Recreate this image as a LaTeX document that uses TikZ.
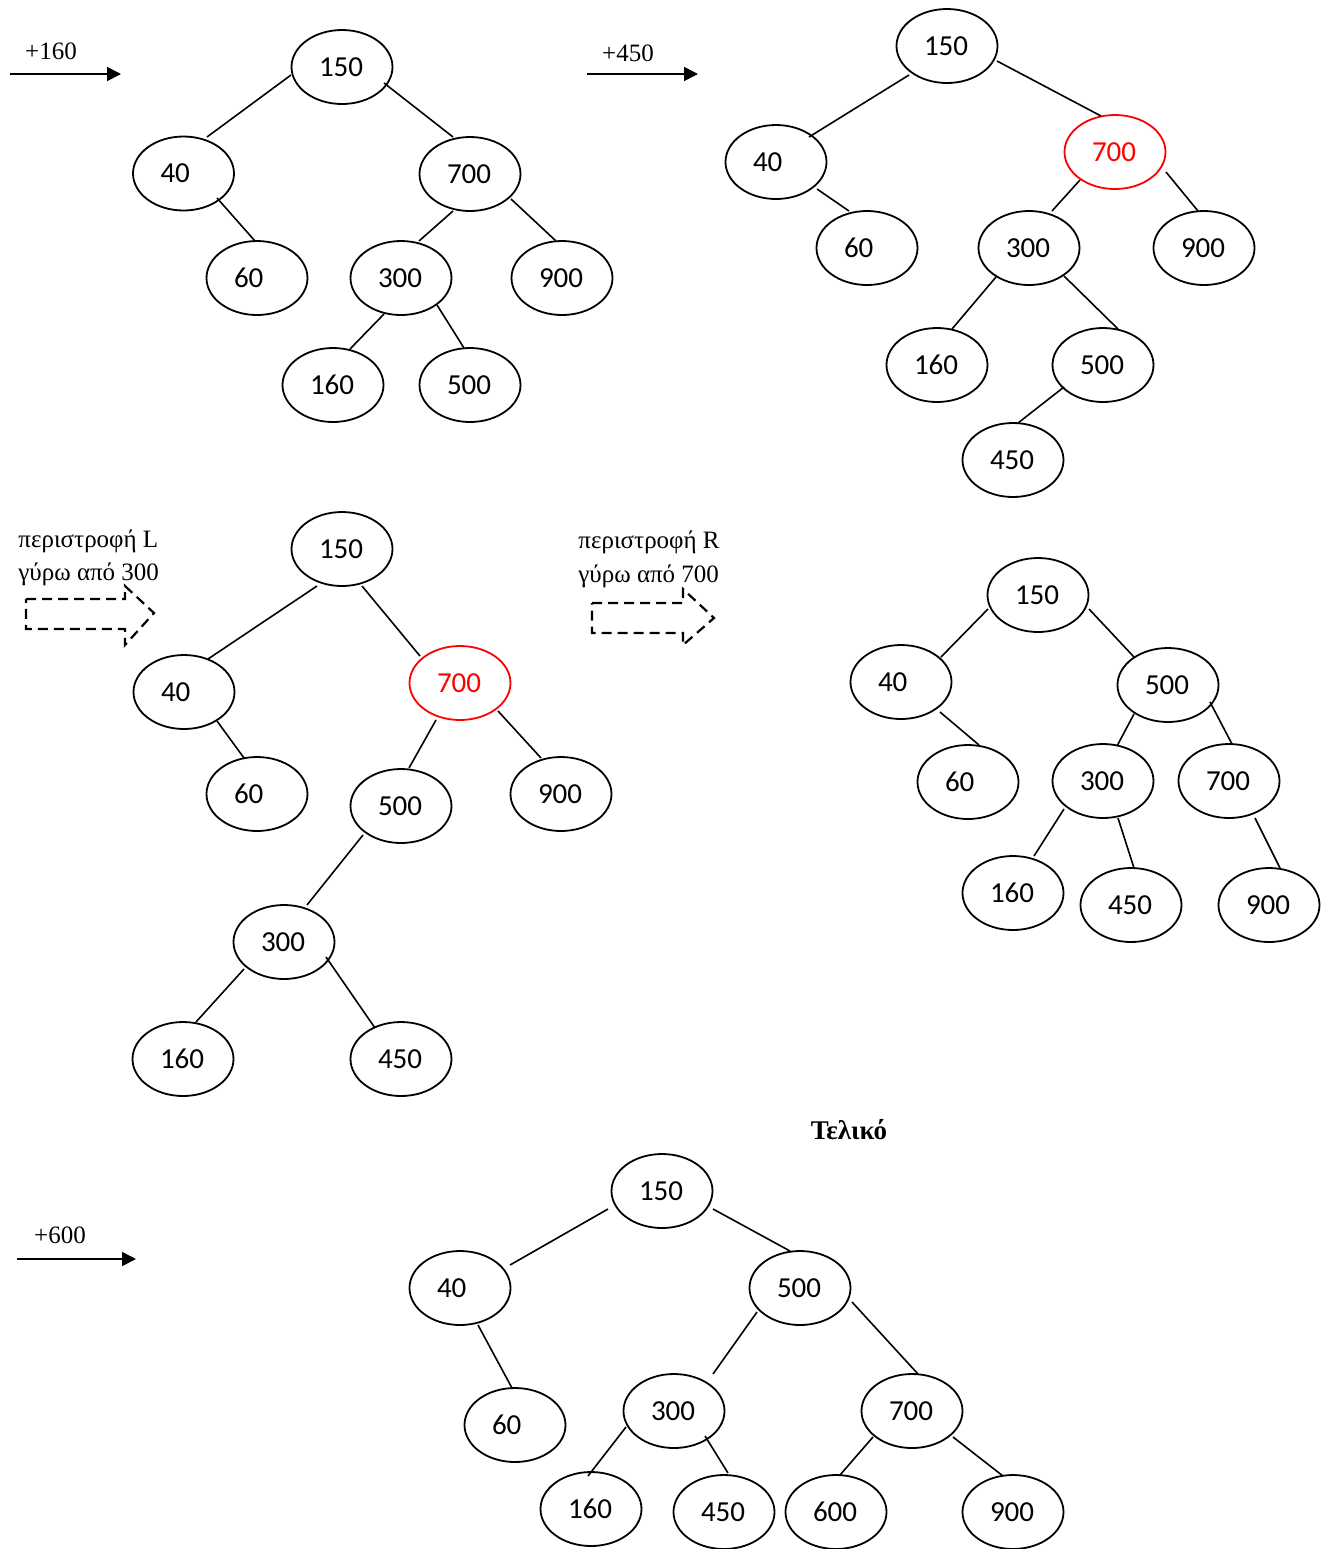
\documentclass[tikz,border=0pt]{standalone}
\usepackage{fontspec}
\setmainfont{Liberation Serif}
\newfontfamily\numfont{Carlito}
\usetikzlibrary{shapes.geometric,arrows.meta}
\definecolor{hlred}{RGB}{255,0,0}
\newcommand\tconn[4]{\draw[conn] ([shift={(#2)}]#1.center) -- ([shift={(#4)}]#3.center);}
\begin{document}
\begin{tikzpicture}[x=0.5pt,y=-0.5pt,
  tnode/.style={ellipse,draw,line width=0.9pt,minimum width=50.5pt,minimum height=37pt,inner sep=0pt,
    font=\numfont\fontsize{14.5}{17}\selectfont},
  hl/.style={draw=hlred,text=hlred},
  conn/.style={line width=0.8pt},
  lbl/.style={font=\fontsize{12.5}{15}\selectfont,inner sep=0pt},
  arr/.style={line width=0.9pt,-{Triangle[length=7pt,width=7pt]}},
  blockarr/.style={line width=1.1pt,dash pattern=on 5pt off 3pt}]
\useasboundingbox (0,0) rectangle (1332,1549);
\newcommand\tx[1]{\makebox[23pt][l]{#1}}
% ---------- arrows and labels ----------
\coordinate (s1) at (10,74); \coordinate (t1) at (121,74);
\draw[arr] (s1) -- (t1);
\node[lbl,anchor=base] (l160) at (51,59) {+160};
\coordinate (s2) at (587,74); \coordinate (t2) at (698,74);
\draw[arr] (s2) -- (t2);
\node[lbl,anchor=base] (l450) at (628,61) {+450};
\coordinate (s3) at (17,1259); \coordinate (t3) at (136,1259);
\draw[arr] (s3) -- (t3);
\node[lbl,anchor=base] (l600) at (60,1243) {+600};
\node[lbl,anchor=base west] (rl1) at (18,547) {περιστροφή L};
\node[lbl,anchor=base west] (rl2) at (18,580) {γύρω από 300};
\node[lbl,anchor=base west] (rr1) at (578,548) {περιστροφή R};
\node[lbl,anchor=base west] (rr2) at (578,582) {γύρω από 700};
\draw[blockarr] (26,599) -- (125,599) -- (125,586) -- (154,613) -- (125,645) -- (125,629) -- (26,629) -- cycle;
\draw[blockarr] (592,603) -- (683,603) -- (683,589) -- (714,618) -- (683,645) -- (683,633) -- (592,633) -- cycle;
\node[font=\bfseries\fontsize{13.5}{16}\selectfont,inner sep=0pt,anchor=base] (final) at (849,1139) {Τελικό};
% ---------- tree 1 ----------
\node[tnode] (a150) at (342,67) {\tx{150}};
\node[tnode] (a40) at (183.5,173.5) {\tx{40}};
\node[tnode] (a700) at (470,174) {\tx{700}};
\node[tnode] (a60) at (257,278) {\tx{60}};
\node[tnode] (a300) at (401,278) {\tx{300}};
\node[tnode] (a900) at (562,278) {\tx{900}};
\node[tnode] (a160) at (333,385) {\tx{160}};
\node[tnode] (a500) at (470,385) {\tx{500}};
\tconn{a150}{-51,8}{a40}{23.5,-36.5}
\tconn{a150}{42,16}{a700}{-17,-37}
\tconn{a40}{33.5,24.5}{a60}{-2,-37}
\tconn{a700}{-17,37}{a300}{18,-37}
\tconn{a700}{41,25}{a900}{-6,-37}
\tconn{a300}{-17,36}{a160}{17,-36}
\tconn{a300}{36,27}{a500}{-6,-37}
% ---------- tree 2 ----------
\node[tnode] (b150) at (947,46) {\tx{150}};
\node[tnode] (b40) at (776,162) {\tx{40}};
\node[tnode,hl] (b700) at (1115,152) {\tx{700}};
\node[tnode] (b60) at (867,248) {\tx{60}};
\node[tnode] (b300) at (1029,248) {\tx{300}};
\node[tnode] (b900) at (1204,248) {\tx{900}};
\node[tnode] (b160) at (937,365) {\tx{160}};
\node[tnode] (b500) at (1103,365) {\tx{500}};
\node[tnode] (b450) at (1013,460) {\tx{450}};
\tconn{b150}{-38,29}{b40}{33,-25}
\tconn{b150}{50,15}{b700}{-14,-36}
\tconn{b40}{41,27}{b60}{-18,-37}
\tconn{b700}{-35,28}{b300}{23,-37}
\tconn{b700}{51,20}{b900}{-6,-37}
\tconn{b300}{-33,29}{b160}{15,-36}
\tconn{b300}{35,28}{b500}{15,-36}
\tconn{b500}{-39,22}{b450}{5,-37}
% ---------- tree 3 ----------
\node[tnode] (c150) at (342,549) {\tx{150}};
\node[tnode] (c40) at (184,692) {\tx{40}};
\node[tnode,hl] (c700) at (460,683) {\tx{700}};
\node[tnode] (c60) at (257,794) {\tx{60}};
\node[tnode] (c500) at (401,806) {\tx{500}};
\node[tnode] (c900) at (561,794) {\tx{900}};
\node[tnode] (c300) at (284,942) {\tx{300}};
\node[tnode] (c160) at (183,1059) {\tx{160}};
\node[tnode] (c450) at (401,1059) {\tx{450}};
\tconn{c150}{-25,37}{c40}{24,-33}
\tconn{c150}{20,37}{c700}{-40,-27}
\tconn{c40}{33,29}{c60}{-13,-36}
\tconn{c700}{-24,37}{c500}{8,-38}
\tconn{c700}{38,28}{c900}{-20,-36}
\tconn{c500}{-38,29}{c300}{23,-37}
\tconn{c300}{-40,27}{c160}{13,-37}
\tconn{c300}{42,15}{c450}{-26,-31}
% ---------- tree 4 ----------
\node[tnode] (d150) at (1038,595) {\tx{150}};
\node[tnode] (d40) at (901,682) {\tx{40}};
\node[tnode] (d500) at (1168,685) {\tx{500}};
\node[tnode] (d60) at (968,782) {\tx{60}};
\node[tnode] (d300) at (1103,781) {\tx{300}};
\node[tnode] (d700) at (1229,781) {\tx{700}};
\node[tnode] (d160) at (1013,893) {\tx{160}};
\node[tnode] (d450) at (1131,905) {\tx{450}};
\node[tnode] (d900) at (1269,905) {\tx{900}};
\tconn{d150}{-50,14}{d40}{40,-25}
\tconn{d150}{51,14}{d500}{-34,-28}
\tconn{d40}{39,30}{d60}{11,-37}
\tconn{d500}{-34,29}{d300}{14,-35}
\tconn{d500}{42,17}{d700}{3,-37}
\tconn{d300}{-39,28}{d160}{21,-37}
\tconn{d300}{15,37}{d450}{3,-37}
\tconn{d700}{26,37}{d900}{11,-37}
% ---------- tree 5 ----------
\node[tnode] (e150) at (662,1191) {\tx{150}};
\node[tnode] (e40) at (460,1288) {\tx{40}};
\node[tnode] (e500) at (800,1288) {\tx{500}};
\node[tnode] (e60) at (515,1425) {\tx{60}};
\node[tnode] (e300) at (674,1411) {\tx{300}};
\node[tnode] (e700) at (912,1411) {\tx{700}};
\node[tnode] (e160) at (591,1509) {\tx{160}};
\node[tnode] (e450) at (724,1512) {\tx{450}};
\node[tnode] (e600) at (836,1512) {\tx{600}};
\node[tnode] (e900) at (1013,1512) {\tx{900}};
\tconn{e150}{-54,18}{e40}{50,-23}
\tconn{e150}{51,18}{e500}{-10,-37}
\tconn{e40}{18,37}{e60}{-3,-37}
\tconn{e500}{-43,24}{e300}{39,-37}
\tconn{e500}{52,14}{e700}{6,-37}
\tconn{e300}{-48,16}{e160}{-3,-33}
\tconn{e300}{31,25}{e450}{4,-39}
\tconn{e700}{-39,26}{e600}{4,-37}
\tconn{e700}{41,26}{e900}{-10,-36}
\end{tikzpicture}
\end{document}
